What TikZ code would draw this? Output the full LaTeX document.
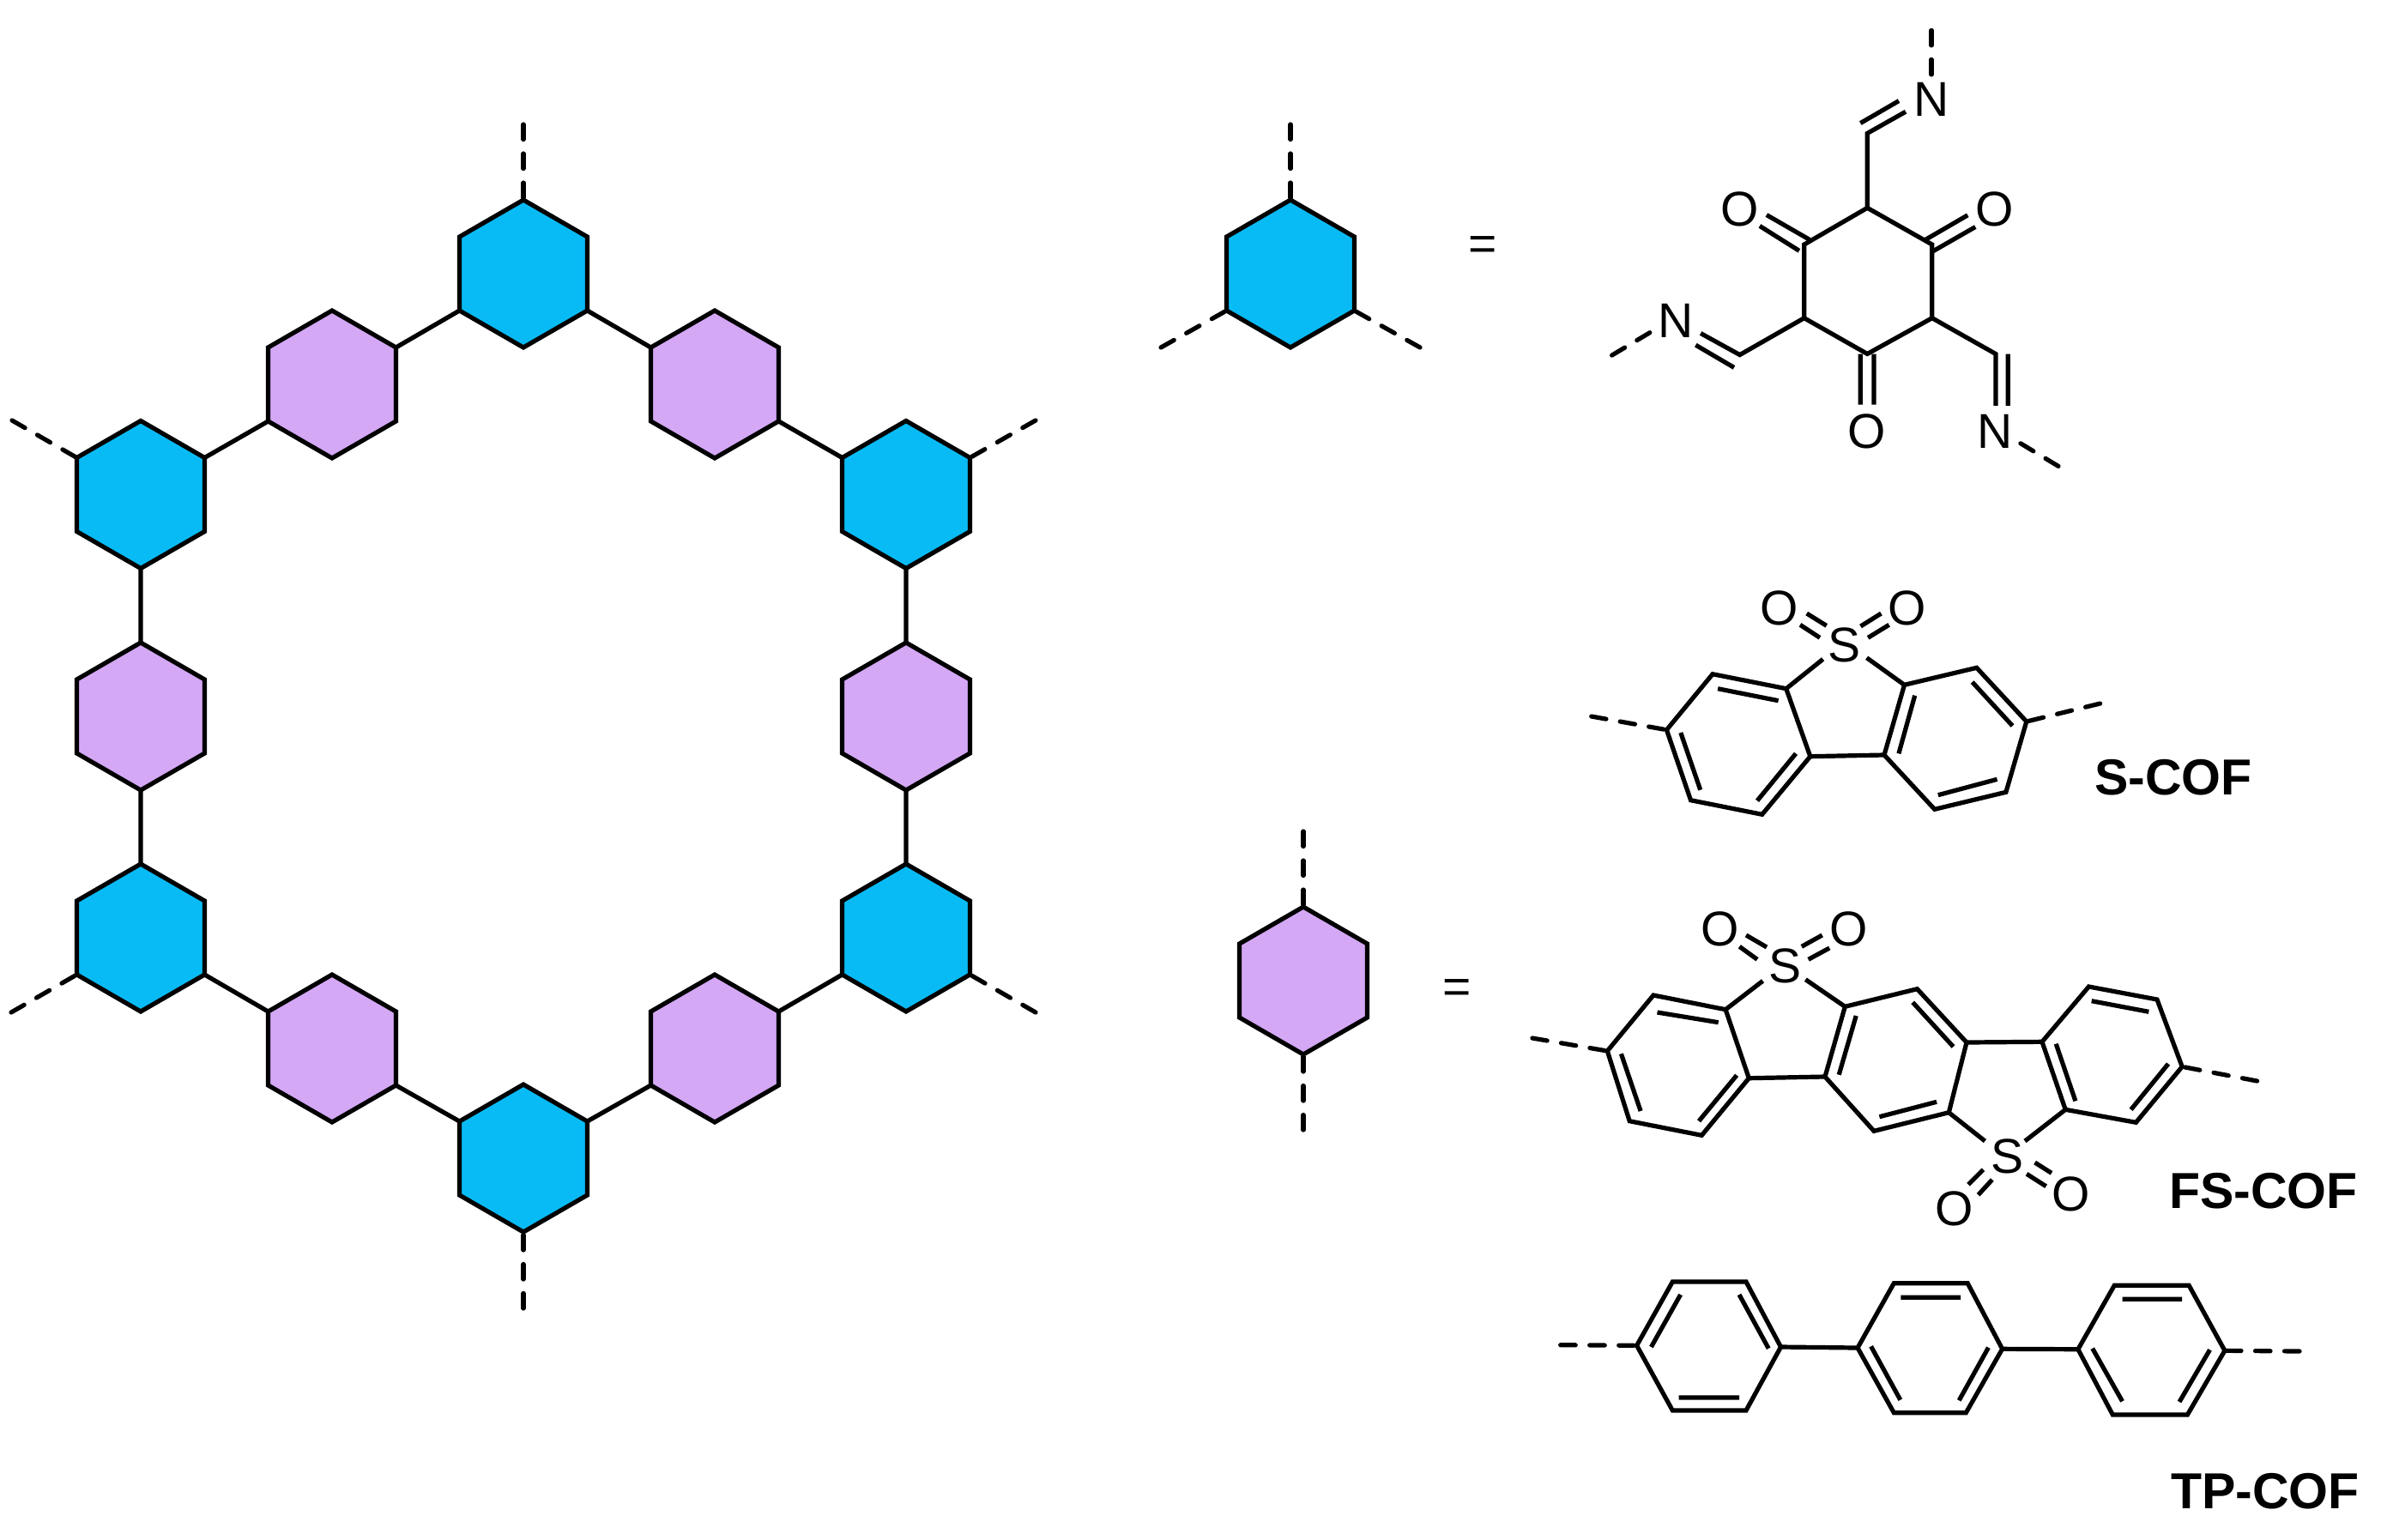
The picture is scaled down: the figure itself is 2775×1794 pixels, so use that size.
\documentclass[tikz,border=0pt]{standalone}
\usepackage{fontspec}
\setmainfont{Liberation Sans}
\usetikzlibrary{shapes.geometric}
\definecolor{hexblue}{RGB}{9,187,245}
\definecolor{hexpurple}{RGB}{212,168,245}
\tikzset{
  bond/.style={line width=5.2pt,line cap=butt,line join=miter},
  dashbond/.style={line width=5.2pt,line cap=round,dash pattern=on 17.5pt off 16.5pt},
  hexa/.style={regular polygon,regular polygon sides=6,shape border rotate=30,minimum size=172pt,inner sep=0pt,outer sep=0pt,draw=black,line width=5.2pt,line join=miter},
  bluehex/.style={hexa,fill=hexblue},
  purplehex/.style={hexa,fill=hexpurple},
  atom/.style={inner sep=0pt,outer sep=0pt,font=\fontsize{57}{60}\selectfont},
  cof/.style={anchor=base west,inner sep=0pt,outer sep=0pt,font=\fontsize{59}{60}\selectfont\bfseries}
}
\begin{document}
\begin{tikzpicture}[x=1pt,y=-1pt]
\useasboundingbox (0,0) rectangle (2775,1794);
% ---- lattice
\node[bluehex]   (T)   at (610,319) {};
\node[purplehex] (PUL) at (387,448) {};
\node[purplehex] (PUR) at (833,448) {};
\node[bluehex]   (BUL) at (164,576.5) {};
\node[bluehex]   (BUR) at (1056,576.5) {};
\node[purplehex] (PL)  at (164,835) {};
\node[purplehex] (PR)  at (1056,835) {};
\node[bluehex]   (BLL) at (164,1093) {};
\node[bluehex]   (BLR) at (1056,1093) {};
\node[purplehex] (PLL) at (387,1222) {};
\node[purplehex] (PLR) at (833,1222) {};
\node[bluehex]   (B)   at (610,1350) {};
\draw[bond] (T.210)--(PUL.30) (T.-30)--(PUR.150) (PUL.210)--(BUL.30) (PUR.-30)--(BUR.150)
  (BUL.-90)--(PL.90) (PL.-90)--(BLL.90) (BUR.-90)--(PR.90) (PR.-90)--(BLR.90)
  (BLL.-30)--(PLL.150) (PLL.-30)--(B.150) (B.30)--(PLR.210) (PLR.30)--(BLR.210);
\foreach \n/\x/\y in {f1/610/145,f2/14/490,f3/1207/490,f4/13/1180,f5/1207/1180,f6/610/1525,
  f7/1504/145,f8/1353/405,f9/1655/405,f10/1519/969,f11/1519/1317}
  \coordinate (\n) at (\x,\y);
\draw[dashbond] (f1)--(T.90);
\draw[dashbond] (f2)--(BUL.150);
\draw[dashbond] (f3)--(BUR.30);
\draw[dashbond] (f4)--(BLL.210);
\draw[dashbond] (f5)--(BLR.-30);
\draw[dashbond] (f6)--(B.-90);
% ---- legend hexagons
\node[bluehex] (LB) at (1504,319) {};
\node[purplehex] (LP) at (1519,1143) {};
\draw[dashbond] (f7)--(LB.90);
\draw[dashbond] (f8)--(LB.210);
\draw[dashbond] (f9)--(LB.-30);
\draw[dashbond] (f10)--(LP.90);
\draw[dashbond] (f11)--(LP.-90);
\node[atom] (eq1) at (1728.5,289.5) {=};
\node[atom] (eq2) at (1698.5,1156) {=};
% ---- triformyl ring
\foreach \n/\x/\y in {r1/2176.3/242.3,r2/2251.8/285,r3/2251.8/370.7,r4/2176.3/412.5,r5/2102.7/370.7,r6/2102.7/285,
  c1/2176.3/155.4,c2/2027.7/413.6,c3/2325.9/412.5,
  d1a/2221/130.2,d1b/2168.3/143.5,d1c/2213/117.6,
  d2a/1982.1/388.5,d2b/2021/428.4,d2c/1976.3/402.2,
  d3a/2325.9/472.8,d3b/2340.2/412.5,d3c/2340.2/472.8,
  o1a/2096.9/292.3,o1b/2050.9/263.4,o1c/2108.9/279.3,o1d/2058.9/250.5,
  o2a/2251.8/293.4,o2b/2302.2/264.5,o2c/2244.2/279.3,o2d/2293.3/250.8,
  o3a/2168.3/412.5,o3b/2168.3/471.7,o3c/2183.9/412.5,o3d/2183.9/471.7,
  n1a/2250.9/86.9,n1b/2250.9/25.2,n2a/1922.8/387.7,n2b/1878.1/414.4,n3a/2354.9/516.8,n3b/2399.6/543.8}
  \coordinate (\n) at (\x,\y);
\draw[bond] (r1)--(r2)--(r3)--(r4)--(r5)--(r6)--cycle;
\draw[bond] (r1)--(c1)--(d1a) (d1b)--(d1c);
\draw[bond] (r5)--(c2)--(d2a) (d2b)--(d2c);
\draw[bond] (r3)--(c3)--(d3a) (d3b)--(d3c);
\draw[bond] (o1a)--(o1b) (o1c)--(o1d) (o2a)--(o2b) (o2c)--(o2d) (o3a)--(o3b) (o3c)--(o3d);
\draw[dashbond] (n1a)--(n1b);
\draw[dashbond] (n2a)--(n2b);
\draw[dashbond] (n3a)--(n3b);
\node[atom] (N1) at (2250.9,115.8) {N};
\node[atom] (N2) at (1953.1,373.7) {N};
\node[atom] (N3) at (2324.6,502.4) {N};
\node[atom] (O1) at (2027.7,244.2) {O};
\node[atom] (O2) at (2324.6,244.2) {O};
\node[atom] (O3) at (2175.4,502.4) {O};
% ---- S-COF
\foreach \n/\x/\y in {a/1996/785.7,b/2081.7/802.7,c/2109.8/881.7,d/2053.7/949.3,e/1970.5/932.7,f/1942.4/850.7,
  g/2219.5/798.3,h/2303.7/778.3,i/2361.8/841,j/2337.9/923.3,k/2254.7/943.3,l/2196/880,
  ab1/2002.1/802.7,ab2/2072.6/816.7,cd1/2093/878.3,cd2/2048/933.3,ef1/1958.8/854,ef2/1981.7/920.7,
  gl1/2231.7/810.7,gl2/2212.9/878.3,hi1/2298.6/795,hi2/2345.5/846,jk1/2327.6/908.3,jk2/2258.8/926.7,
  sb/2124.6/768.3,sg/2175.6/766.7,
  so1/2128.7/729.3,so2/2105.7/715,so3/2121/743.3,so4/2098/728.3,
  so5/2168.5/730,so6/2192.4/715,so7/2177.1/743.3,so8/2201.6/728.3,
  sl/1854.7/835,sr/2447.6/820}
  \coordinate (s\n) at (\x,\y);
\draw[bond] (sa)--(sb)--(sc)--(sd)--(se)--(sf)--cycle;
\draw[bond] (sg)--(sh)--(si)--(sj)--(sk)--(sl)--cycle;
\draw[bond] (sc)--(sl) (ssb)--(sb) (ssg)--(sg);
\draw[bond] (sab1)--(sab2) (scd1)--(scd2) (sef1)--(sef2) (sgl1)--(sgl2) (shi1)--(shi2) (sjk1)--(sjk2);
\draw[bond] (sso1)--(sso2) (sso3)--(sso4) (sso5)--(sso6) (sso7)--(sso8);
\draw[dashbond] (ssl)--(sf);
\draw[dashbond] (ssr)--(si);
\node[atom] (S0) at (2149.1,751.7) {S};
\node[atom] (O4) at (2074,709.3) {O};
\node[atom] (O5) at (2223,709.3) {O};
\node[cof] (L1) at (2441,926.7) {S-COF};
% ---- FS-COF
\foreach \n/\x/\y in {A1/1927/1160,A2/2011.1/1176.7,A3/2038.3/1256.7,A4/1983.3/1323.3,A5/1899.2/1306.7,A6/1873.3/1225,
  B1/2150.3/1173.3,B2/2234.4/1152.7,B3/2292/1215,B4/2271.3/1296.7,B5/2184/1318.3,B6/2127/1255,
  C1/2380/1214.3,C2/2434.4/1150,C3/2514/1165,C4/2543.2/1243.3,C5/2489.4/1308.3,C6/2407.2/1293.3,
  ia1/1931.5/1180,ia2/2002.7/1191.7,ia3/2024.1/1253.3,ia4/1980/1306.7,ia5/1912.1/1295,ia6/1889.4/1228.3,
  ib1/2163.2/1184,ib2/2143.2/1252.7,ib3/2229.2/1168.3,ib4/2276.5/1220,ib5/2257.1/1284.3,ib6/2190.4/1301.7,
  ic1/2396.2/1216.7,ic2/2418.9/1283.3,ic3/2437.7/1166.7,ic4/2504.3/1179.3,ic5/2527/1240,ic6/2483.6/1293.3,
  sa/2054.5/1143.3,sbb/2104.3/1141.7,sc/2313.4/1330,sd/2360/1330,
  q1/2059/1104,q2/2035/1090,q3/2048/1118.3,q4/2027.3/1103.3,
  q5/2099.8/1103.3,q6/2123.7/1090,q7/2107.6/1118.3,q8/2132.2/1105,
  q9/2311.4/1363.3,q10/2294/1380.7,q11/2321.8/1375,q12/2305.6/1392.7,
  q13/2371.6/1355,q14/2391/1367.3,q15/2362/1368.3,q16/2384.6/1382.7,
  fl/1785.9/1210,fr/2630.6/1260}
  \coordinate (F\n) at (\x,\y);
\draw[bond] (FA1)--(FA2)--(FA3)--(FA4)--(FA5)--(FA6)--cycle;
\draw[bond] (FB1)--(FB2)--(FB3)--(FB4)--(FB5)--(FB6)--cycle;
\draw[bond] (FC1)--(FC2)--(FC3)--(FC4)--(FC5)--(FC6)--cycle;
\draw[bond] (FA3)--(FB6) (FB3)--(FC1) (Fsa)--(FA2) (Fsbb)--(FB1) (Fsc)--(FB4) (Fsd)--(FC6);
\draw[bond] (Fia1)--(Fia2) (Fia3)--(Fia4) (Fia5)--(Fia6) (Fib1)--(Fib2) (Fib3)--(Fib4) (Fib5)--(Fib6)
  (Fic1)--(Fic2) (Fic3)--(Fic4) (Fic5)--(Fic6);
\draw[bond] (Fq1)--(Fq2) (Fq3)--(Fq4) (Fq5)--(Fq6) (Fq7)--(Fq8) (Fq9)--(Fq10) (Fq11)--(Fq12) (Fq13)--(Fq14) (Fq15)--(Fq16);
\draw[dashbond] (Ffl)--(FA6);
\draw[dashbond] (Ffr)--(FC4);
\node[atom] (S1) at (2080.4,1126) {S};
\node[atom] (S2) at (2339.3,1348.3) {S};
\node[atom] (O6) at (2004.7,1083.3) {O};
\node[atom] (O7) at (2154.8,1083.3) {O};
\node[atom] (O8) at (2277.8,1409.3) {O};
\node[atom] (O9) at (2413.7,1391.7) {O};
\node[cof] (L2) at (2528,1408) {FS-COF};
% ---- TP-COF
\foreach \n/\x/\y in {a1/1907.6/1568.3,a2/1949.3/1494,a3/2035/1494,a4/2075.5/1570,a5/2035/1644,a6/1949.3/1644,
  b1/2165/1571,b2/2207.3/1495.7,b3/2293.2/1495.7,b4/2333.6/1572.3,b5/2291.3/1646.7,b6/2207.3/1646.7,
  c1/2421.9/1572.7,c2/2464.2/1498.3,c3/2551.2/1498.3,c4/2592.9/1574.3,c5/2549.4/1649,c6/2462.3/1649,
  u1/1924.4/1570,u2/1958.6/1509,u3/2061.2/1571.7,u4/2027/1509,u5/1956.7/1629,u6/2027/1629,
  v1/2215.4/1512.3,v2/2285/1512.3,v3/2180.6/1569.3,v4/2214.8/1631.7,v5/2317.4/1570.7,v6/2283.2/1632.3,
  w1/2473.5/1514.3,w2/2543.2/1514.3,w3/2438.7/1571.7,w4/2473.5/1633.3,w5/2575.5/1573.3,w6/2540/1634,
  l/1818.7/1567.7,r/2680/1575}
  \coordinate (P\n) at (\x,\y);
\draw[bond] (Pa1)--(Pa2)--(Pa3)--(Pa4)--(Pa5)--(Pa6)--cycle;
\draw[bond] (Pb1)--(Pb2)--(Pb3)--(Pb4)--(Pb5)--(Pb6)--cycle;
\draw[bond] (Pc1)--(Pc2)--(Pc3)--(Pc4)--(Pc5)--(Pc6)--cycle;
\draw[bond] (Pa4)--(Pb1) (Pb4)--(Pc1);
\draw[bond] (Pu1)--(Pu2) (Pu3)--(Pu4) (Pu5)--(Pu6) (Pv1)--(Pv2) (Pv3)--(Pv4) (Pv5)--(Pv6) (Pw1)--(Pw2) (Pw3)--(Pw4) (Pw5)--(Pw6);
\draw[dashbond] (Pl)--(Pa1);
\draw[dashbond] (Pr)--(Pc4);
\node[cof] (L3) at (2530,1758) {TP-COF};
\end{tikzpicture}
\end{document}
